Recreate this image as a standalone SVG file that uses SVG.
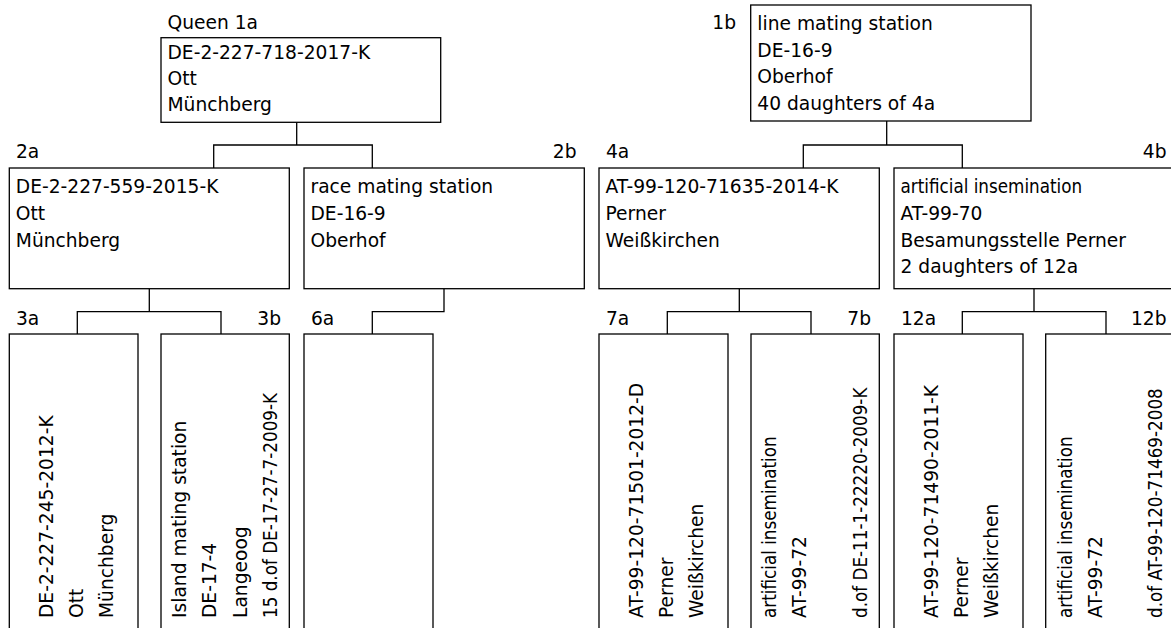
<svg xmlns="http://www.w3.org/2000/svg" width="1171" height="628" viewBox="0 0 1171 628">
<style>
rect.box{fill:#fff;stroke:#000;stroke-width:1.3}
.conn path{fill:none;stroke:#000;stroke-width:1.3}
text{font-family:"DejaVu Sans","Liberation Sans",sans-serif;font-size:18.67px;fill:#000}
text.end{text-anchor:end}
text.cond{font-family:"DejaVu Sans Condensed","DejaVu Sans",sans-serif;font-stretch:condensed}
</style>
<rect width="1171" height="628" fill="#fff"/>
<g class="conn" id="connectors">
<path d="M296.7,122.3V145M213.7,168V145H372.3V168"/>
<path d="M886.7,121V145M803.3,168V145H962.3V168"/>
<path d="M149.3,288.7V311.7M77.3,334V311.7H221V334"/>
<path d="M444,288.7V311.7H372.3V334"/>
<path d="M739.3,288.7V311.7M667.3,334V311.7H811V334"/>
<path d="M1034,288.7V311.7M962.3,334V311.7H1106V334"/>
</g>
<g id="n1a">
<text x="167.5" y="29">Queen 1a</text>
<rect class="box" x="161" y="37.7" width="279.7" height="84.6"/>
<text x="167.5" y="59">DE-2-227-718-2017-K</text>
<text x="167.5" y="85">Ott</text>
<text x="167.5" y="111">Münchberg</text>
</g>
<g id="n1b">
<text class="end" x="736" y="29">1b</text>
<rect class="box" x="750.7" y="5" width="280.3" height="116"/>
<text x="757.3" y="30">line mating station</text>
<text x="757.3" y="56.5">DE-16-9</text>
<text x="757.3" y="83">Oberhof</text>
<text x="757.3" y="109.5">40 daughters of 4a</text>
</g>
<g id="n2a">
<text x="16" y="158">2a</text>
<rect class="box" x="9.3" y="168" width="280" height="120.7"/>
<text x="15.8" y="193.3">DE-2-227-559-2015-K</text>
<text x="15.8" y="220">Ott</text>
<text x="15.8" y="246.5">Münchberg</text>
</g>
<g id="n2b">
<text class="end" x="576.5" y="158">2b</text>
<rect class="box" x="304" y="168" width="280.3" height="120.7"/>
<text x="310.5" y="193.3">race mating station</text>
<text x="310.5" y="220">DE-16-9</text>
<text x="310.5" y="246.5">Oberhof</text>
</g>
<g id="n4a">
<text x="606" y="158">4a</text>
<rect class="box" x="599" y="168" width="280.3" height="120.7"/>
<text x="605.5" y="193.3">AT-99-120-71635-2014-K</text>
<text x="605.5" y="220">Perner</text>
<text x="605.5" y="246.5">Weißkirchen</text>
</g>
<g id="n4b">
<text class="end" x="1166.5" y="158">4b</text>
<rect class="box" x="894" y="168" width="281" height="120.7"/>
<text class="cond" x="900.5" y="193.3">artificial insemination</text>
<text x="900.5" y="220">AT-99-70</text>
<text x="900.5" y="246.5">Besamungsstelle Perner</text>
<text x="900.5" y="273">2 daughters of 12a</text>
</g>
<g id="n3a">
<text x="16" y="325">3a</text>
<rect class="box" x="9.3" y="334" width="128.7" height="310"/>
<text x="53.3" y="618" transform="rotate(-90 53.3 618)">DE-2-227-245-2012-K</text>
<text x="83.3" y="618" transform="rotate(-90 83.3 618)">Ott</text>
<text x="113.3" y="618" transform="rotate(-90 113.3 618)">Münchberg</text>
</g>
<g id="n3b">
<text class="end" x="281" y="325">3b</text>
<rect class="box" x="161" y="334" width="128.3" height="310"/>
<text x="186" y="618" transform="rotate(-90 186 618)">Island mating station</text>
<text x="216" y="618" transform="rotate(-90 216 618)">DE-17-4</text>
<text x="246.5" y="618" transform="rotate(-90 246.5 618)">Langeoog</text>
<text class="cond" x="276.7" y="618" transform="rotate(-90 276.7 618)">15 d.of DE-17-27-7-2009-K</text>
</g>
<g id="n6a">
<text x="311" y="325">6a</text>
<rect class="box" x="304" y="334" width="129" height="310"/>
</g>
<g id="n7a">
<text x="606" y="325">7a</text>
<rect class="box" x="599" y="334" width="129" height="310"/>
<text x="643.3" y="618" transform="rotate(-90 643.3 618)">AT-99-120-71501-2012-D</text>
<text x="673.3" y="618" transform="rotate(-90 673.3 618)">Perner</text>
<text x="703.3" y="618" transform="rotate(-90 703.3 618)">Weißkirchen</text>
</g>
<g id="n7b">
<text class="end" x="871" y="325">7b</text>
<rect class="box" x="751" y="334" width="128.3" height="310"/>
<text class="cond" x="776" y="618" transform="rotate(-90 776 618)">artificial insemination</text>
<text x="806" y="618" transform="rotate(-90 806 618)">AT-99-72</text>
<text class="cond" x="866.5" y="618" transform="rotate(-90 866.5 618)">d.of DE-11-1-22220-2009-K</text>
</g>
<g id="n12a">
<text x="901" y="325">12a</text>
<rect class="box" x="894" y="334" width="129" height="310"/>
<text x="937.5" y="618" transform="rotate(-90 937.5 618)">AT-99-120-71490-2011-K</text>
<text x="967.5" y="618" transform="rotate(-90 967.5 618)">Perner</text>
<text x="997.5" y="618" transform="rotate(-90 997.5 618)">Weißkirchen</text>
</g>
<g id="n12b">
<text class="end" x="1166.5" y="325">12b</text>
<rect class="box" x="1045.7" y="334" width="129" height="310"/>
<text class="cond" x="1071.5" y="618" transform="rotate(-90 1071.5 618)">artificial insemination</text>
<text x="1101.5" y="618" transform="rotate(-90 1101.5 618)">AT-99-72</text>
<text class="cond" x="1161.5" y="618" transform="rotate(-90 1161.5 618)">d.of AT-99-120-71469-2008</text>
</g>
</svg>
